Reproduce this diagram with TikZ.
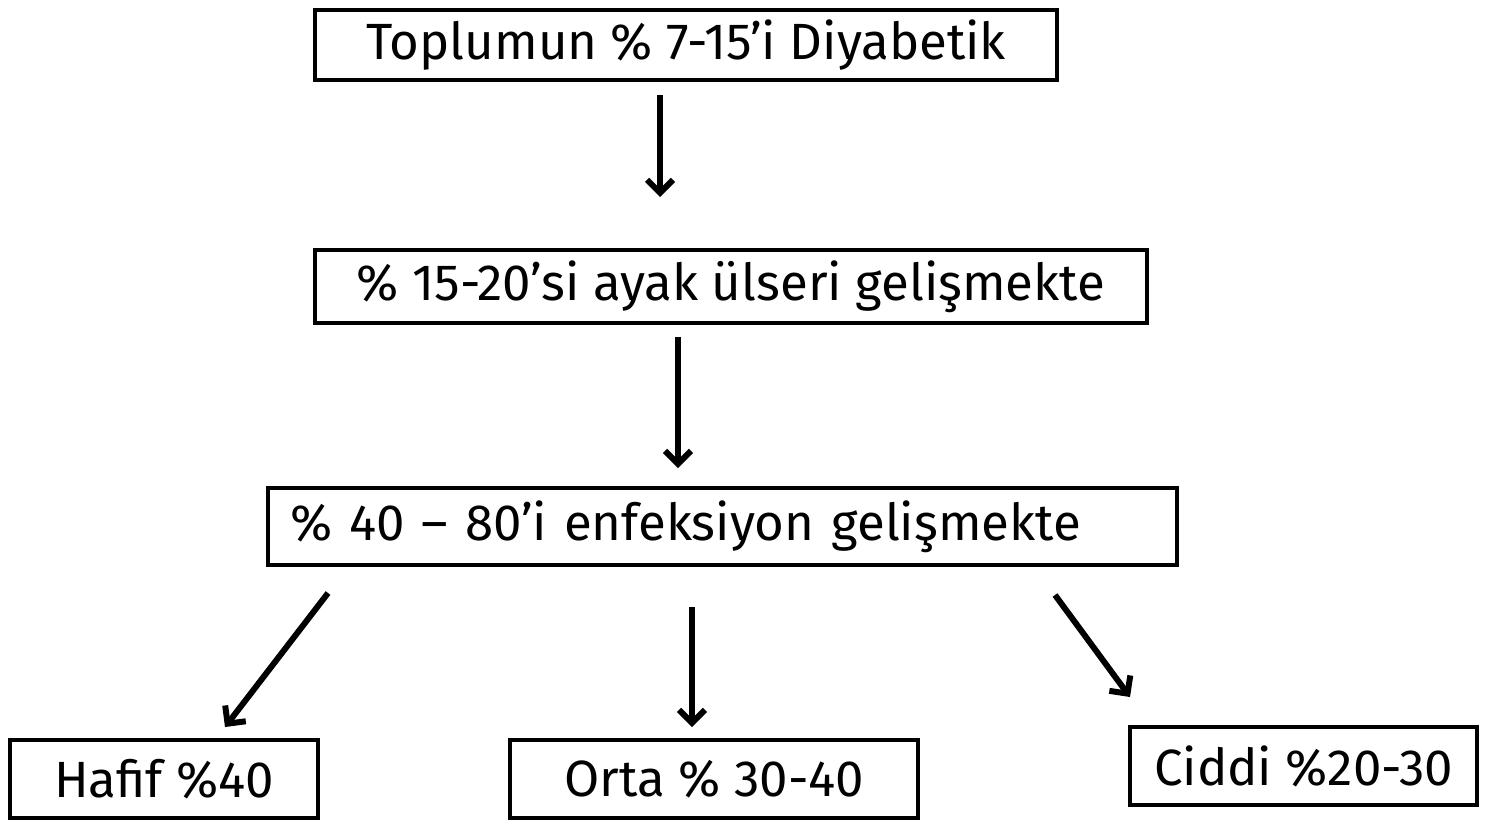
\documentclass[tikz,border=0pt]{standalone}
\usepackage{fontspec}
\setmainfont{Fira Sans}
\usetikzlibrary{arrows.meta}

\begin{document}
\begin{tikzpicture}[box/.style={draw, line width=1.2pt, inner sep=0pt, font=\fontsize{14.5}{16}\selectfont},
                    arr/.style={line width=1.7pt, -{Straight Barb[length=1.3mm, width=2.6mm]}}]
                \useasboundingbox (0,0) rectangle (14.85,-8.25);
                \node[box, minimum width=7.42cm, minimum height=0.70cm] (A) at (6.86,-0.45) {Toplumun \% 7-15'i Diyabetik};
                \node[box, minimum width=8.32cm, minimum height=0.73cm] (B) at (7.31,-2.865) {\% 15-20'si ayak ülseri gelişmekte};
                \node[box, minimum height=0.77cm, text width=8.65cm, inner xsep=0.22cm, align=left] (C) at (7.225,-5.265) {\% 40 – 80'i enfeksiyon gelişmekte};
                \node[box, minimum width=3.08cm, minimum height=0.78cm] (D) at (1.64,-7.79) {Hafif \%40};
                \node[box, minimum width=4.08cm, minimum height=0.78cm] (E) at (7.14,-7.79) {Orta \% 30-40};
                \node[box, minimum width=3.47cm, minimum height=0.78cm] (F) at (13.035,-7.66) {Ciddi \%20-30};
            
                \coordinate (a1) at (6.60,-0.95);  \coordinate (a2) at (6.60,-1.97);
                \coordinate (b1) at (6.78,-3.37);  \coordinate (b2) at (6.78,-4.68);
                \coordinate (c1) at (3.28,-5.93);  \coordinate (c2) at (2.25,-7.27);
                \coordinate (d1) at (6.92,-6.07);  \coordinate (d2) at (6.92,-7.27);
                \coordinate (e1) at (10.55,-5.95); \coordinate (e2) at (11.30,-6.97);
            
                \draw[arr] (a1) -- (a2);
                \draw[arr] (b1) -- (b2);
                \draw[arr] (c1) -- (c2);
                \draw[arr] (d1) -- (d2);
                \draw[arr] (e1) -- (e2);
            \end{tikzpicture}
\end{document}
